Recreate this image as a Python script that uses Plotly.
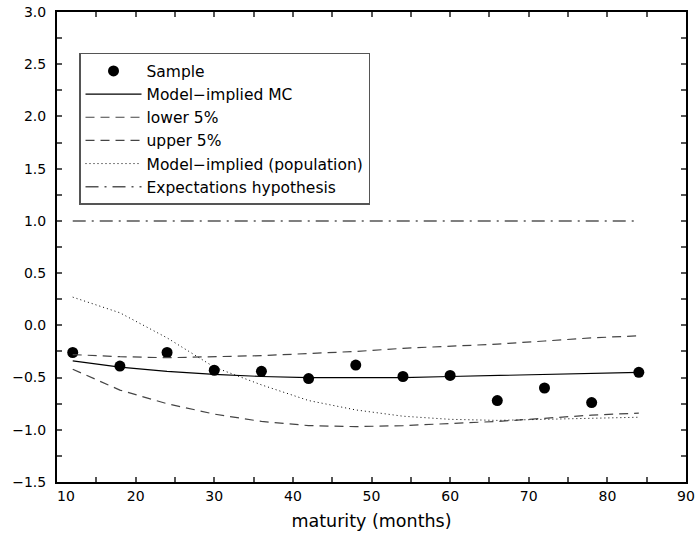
import plotly.graph_objects as go

maturity = [12, 18, 24, 30, 36, 42, 48, 54, 60, 66, 72, 78, 84]
sample = [-0.26, -0.39, -0.26, -0.43, -0.44, -0.51, -0.38, -0.49, -0.48, -0.72, -0.60, -0.74, -0.45]
model_mc = [-0.34, -0.40, -0.44, -0.47, -0.49, -0.50, -0.50, -0.50, -0.49, -0.48, -0.47, -0.46, -0.45]
lower5 = [-0.42, -0.62, -0.75, -0.85, -0.92, -0.96, -0.97, -0.96, -0.94, -0.92, -0.89, -0.86, -0.84]
upper5 = [-0.28, -0.30, -0.31, -0.30, -0.29, -0.27, -0.25, -0.22, -0.20, -0.18, -0.15, -0.12, -0.10]
population = [0.27, 0.12, -0.12, -0.40, -0.57, -0.72, -0.81, -0.87, -0.90, -0.91, -0.90, -0.89, -0.88]
expectations = [1.0] * len(maturity)

x_ticks = [10, 20, 30, 40, 50, 60, 70, 80, 90]
x_labels = ["\u00a0\u00a0\u00a0\u00a010", "20", "30", "40", "50", "60", "70", "80", "90"]
y_ticks = [-1.5, -1.0, -0.5, 0.0, 0.5, 1.0, 1.5, 2.0, 2.5, 3.0]
y_labels = [f"{v:.1f}".replace("-", "\u2212") for v in y_ticks]

FONT = "DejaVu Sans"

fig = go.Figure()
fig.add_trace(go.Scatter(x=maturity, y=sample, mode="markers", name="Sample",
                         marker=dict(color="black", size=11)))
fig.add_trace(go.Scatter(x=maturity, y=model_mc, mode="lines", name="Model\u2212implied MC",
                         line=dict(color="black", width=1.2)))
fig.add_trace(go.Scatter(x=maturity, y=lower5, mode="lines", name="lower 5%",
                         line=dict(color="#444444", width=1.2, dash="9px,6px")))
fig.add_trace(go.Scatter(x=maturity, y=upper5, mode="lines", name="upper 5%",
                         line=dict(color="#444444", width=1.2, dash="9px,6px")))
fig.add_trace(go.Scatter(x=maturity, y=population, mode="lines", name="Model\u2212implied (population)",
                         line=dict(color="black", width=1, dash="1px,3px")))
fig.add_trace(go.Scatter(x=maturity, y=expectations, mode="lines", name="Expectations hypothesis",
                         line=dict(color="#555555", width=1.5, dash="13px,6px,2px,6px")))

axis_common = dict(
    showline=True, linecolor="black", linewidth=2, mirror="allticks",
    ticks="inside", ticklen=5, tickwidth=1.5, tickcolor="#555555",
    showgrid=False, zeroline=False, automargin=False,
    tickfont=dict(family=FONT, size=14, color="black"),
)

fig.update_xaxes(range=[10, 90], tickvals=x_ticks, ticktext=x_labels,
                 minor=dict(ticks="inside", ticklen=5, dtick=5, tick0=0, tickcolor="#555555", tickwidth=1.5),
                 title=dict(text="maturity (months)", font=dict(family=FONT, size=17.5, color="black"), standoff=12),
                 **axis_common)
fig.update_yaxes(range=[-1.5, 3.0], tickvals=y_ticks, ticktext=y_labels,
                 minor=dict(ticks="inside", ticklen=5, dtick=0.25, tick0=0, tickcolor="#555555", tickwidth=1.5),
                 ticklabelstandoff=6,
                 **axis_common)

fig.update_layout(
    width=696, height=545,
    margin=dict(l=57, r=10, t=12, b=63),
    paper_bgcolor="white", plot_bgcolor="white",
    font=dict(family=FONT, size=14, color="black"),
    legend=dict(x=0.035, y=0.913, xanchor="left", yanchor="top",
                bordercolor="#555555", borderwidth=1.5, bgcolor="white",
                font=dict(family=FONT, size=15.5, color="black"),
                itemwidth=56, tracegroupgap=0),
    showlegend=True,
)

fig.write_html("out.html")
